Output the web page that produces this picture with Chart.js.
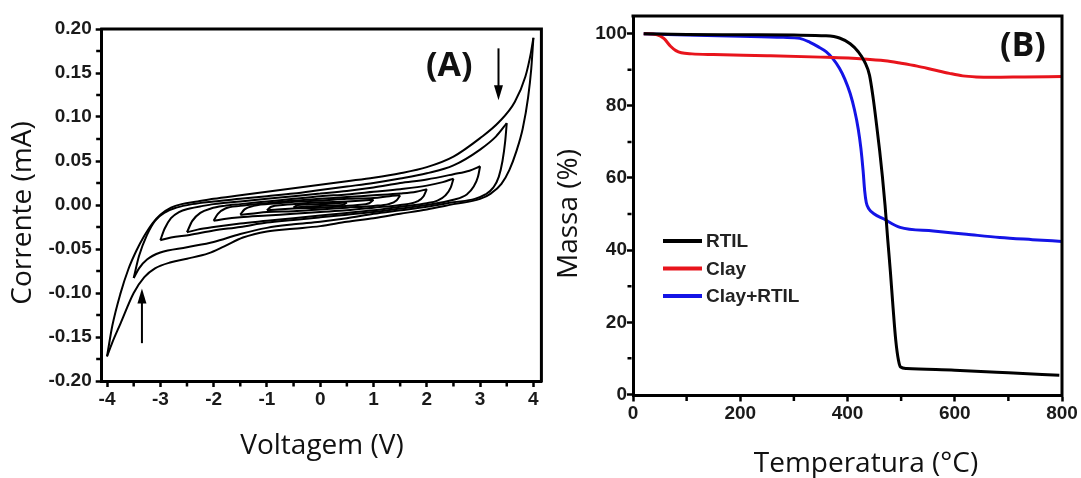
<!DOCTYPE html>
<html>
<head>
<meta charset="utf-8">
<title>Voltametria e TGA</title>
<script src="https://cdn.jsdelivr.net/npm/chart.js@4.4.0/dist/chart.umd.min.js"></script>
<style>
  body { margin: 0; background: #fff; }
  #wrap { position: relative; width: 1081px; height: 478px; overflow: hidden; }
  canvas { position: absolute; top: 0; }
  #cv { left: 0; }
  #tga { left: 545px; }
</style>
</head>
<body>
<div id="wrap">
  <canvas id="cv" width="545" height="478"></canvas>
  <canvas id="tga" width="536" height="478"></canvas>
</div>
<script>
// ---------- (A) voltammograms: [V, mA], anodic sweep then cathodic sweep per window ----------
const cvUp40 = [[-4.0,-0.172],[-3.9,-0.137],[-3.75,-0.101],[-3.6,-0.073],[-3.45,-0.052],[-3.3,-0.035],[-3.15,-0.021],[-3.0,-0.011],[-2.8,-0.003],[-2.6,0.001],[-2.3,0.004],[-2.0,0.007],[-1.5,0.011],[-1.0,0.015],[-0.5,0.019],[0,0.023],[0.5,0.027],[1.0,0.031],[1.5,0.036],[2.0,0.043],[2.5,0.055],[3.0,0.076],[3.35,0.094],[3.65,0.117],[3.85,0.146],[3.95,0.172],[4.0,0.19]];
const cvDown40 = [[4.0,0.19],[3.96,0.155],[3.9,0.122],[3.8,0.087],[3.68,0.061],[3.55,0.04],[3.4,0.024],[3.2,0.013],[3.0,0.007],[2.5,0.001],[2.0,-0.005],[1.5,-0.010],[1.0,-0.015],[0.5,-0.019],[0,-0.024],[-0.5,-0.027],[-1.0,-0.030],[-1.45,-0.037],[-1.8,-0.047],[-2.1,-0.055],[-2.5,-0.061],[-2.8,-0.065],[-3.1,-0.072],[-3.3,-0.082],[-3.5,-0.1],[-3.75,-0.135],[-3.9,-0.156],[-4.0,-0.172]];
const cvUp35 = [[-3.5,-0.083],[-3.4,-0.058],[-3.25,-0.034],[-3.1,-0.018],[-2.9,-0.008],[-2.7,-0.003],[-2.4,0.001],[-2.0,0.004],[-1.5,0.007],[-1.0,0.010],[-0.5,0.013],[0,0.017],[0.5,0.021],[1.0,0.025],[1.5,0.030],[2.0,0.036],[2.5,0.045],[3.0,0.063],[3.3,0.078],[3.5,0.093]];
const cvDown35 = [[3.5,0.093],[3.47,0.072],[3.42,0.05],[3.35,0.032],[3.25,0.02],[3.1,0.012],[2.9,0.007],[2.5,0.003],[2.0,-0.002],[1.5,-0.006],[1.0,-0.010],[0.5,-0.015],[0,-0.019],[-0.5,-0.022],[-1.0,-0.026],[-1.5,-0.033],[-2.0,-0.042],[-2.5,-0.048],[-3.0,-0.054],[-3.25,-0.062],[-3.4,-0.072],[-3.5,-0.083]];
const cvUp30 = [[-3.0,-0.040],[-2.92,-0.027],[-2.8,-0.015],[-2.65,-0.008],[-2.45,-0.004],[-2.2,-0.001],[-2.0,0.001],[-1.5,0.004],[-1.0,0.007],[-0.5,0.010],[0,0.013],[0.5,0.016],[1.0,0.020],[1.5,0.025],[2.0,0.029],[2.5,0.035],[2.8,0.039],[3.0,0.044]];
const cvDown30 = [[3.0,0.044],[2.96,0.032],[2.88,0.021],[2.75,0.012],[2.5,0.006],[2.0,0.000],[1.5,-0.004],[1.0,-0.008],[0.5,-0.011],[0,-0.014],[-0.5,-0.017],[-1.0,-0.020],[-1.5,-0.025],[-2.0,-0.029],[-2.45,-0.034],[-2.8,-0.037],[-3.0,-0.040]];
const cvUp25 = [[-2.5,-0.031],[-2.4,-0.018],[-2.25,-0.009],[-2.05,-0.004],[-1.8,-0.001],[-1.5,0.001],[-1.0,0.004],[-0.5,0.007],[0,0.010],[0.5,0.012],[1.0,0.015],[1.5,0.018],[2.0,0.022],[2.3,0.026],[2.5,0.030]];
const cvDown25 = [[2.5,0.030],[2.45,0.020],[2.35,0.011],[2.2,0.005],[2.0,0.002],[1.5,-0.002],[1.0,-0.006],[0.5,-0.009],[0,-0.012],[-0.5,-0.015],[-1.0,-0.018],[-1.5,-0.021],[-2.0,-0.025],[-2.3,-0.028],[-2.5,-0.031]];
const cvUp20 = [[-2.0,-0.018],[-1.92,-0.010],[-1.78,-0.004],[-1.5,-0.001],[-1.0,0.002],[-0.5,0.005],[0,0.007],[0.5,0.009],[1.0,0.011],[1.5,0.013],[1.8,0.015],[2.0,0.018]];
const cvDown20 = [[2.0,0.018],[1.94,0.010],[1.82,0.004],[1.5,0.000],[1.0,-0.003],[0.5,-0.006],[0,-0.008],[-0.5,-0.010],[-1.0,-0.012],[-1.5,-0.014],[-1.8,-0.016],[-2.0,-0.018]];
const cvUp15 = [[-1.5,-0.011],[-1.42,-0.005],[-1.25,-0.001],[-0.8,0.002],[-0.4,0.004],[0,0.005],[0.5,0.007],[1.0,0.008],[1.3,0.010],[1.5,0.011]];
const cvDown15 = [[1.5,0.011],[1.43,0.005],[1.28,0.001],[1.0,-0.001],[0.5,-0.003],[0,-0.005],[-0.5,-0.007],[-1.0,-0.008],[-1.3,-0.010],[-1.5,-0.011]];
const cvUp10 = [[-1.0,-0.006],[-0.92,-0.002],[-0.7,0.000],[-0.3,0.002],[0,0.003],[0.5,0.004],[0.8,0.005],[1.0,0.006]];
const cvDown10 = [[1.0,0.006],[0.92,0.002],[0.7,0.000],[0.3,-0.002],[0,-0.003],[-0.5,-0.004],[-0.8,-0.005],[-1.0,-0.006]];
const cvUp05 = [[-0.5,-0.003],[-0.42,0.000],[0,0.001],[0.3,0.002],[0.5,0.003]];
const cvDown05 = [[0.5,0.003],[0.42,0.000],[0,-0.001],[-0.3,-0.002],[-0.5,-0.003]];

const voltTicks = [-4, -3, -2, -1, 0, 1, 2, 3, 4];
const voltMinor = [-3.5, -2.5, -1.5, -0.5, 0.5, 1.5, 2.5, 3.5];
const currentTicks = [-0.2, -0.15, -0.1, -0.05, 0, 0.05, 0.1, 0.15, 0.2];
const currentMinor = [-0.175, -0.125, -0.075, -0.025, 0.025, 0.075, 0.125, 0.175];

// ---------- (B) thermogravimetry ----------
const tgaLabels = ["RTIL", "Clay", "Clay+RTIL"];
const tempRTIL = [20, 100, 200, 300, 360, 385, 405, 420, 432, 441, 448, 454, 460, 465, 470, 475, 480, 485, 490, 495, 499, 510, 600, 700, 795];
const massRTIL = [100, 99.8, 99.7, 99.6, 99.4, 98.8, 97.2, 95.0, 92.2, 88.5, 82.0, 75.0, 67.5, 60.5, 52.5, 43.0, 34.0, 24.0, 15.0, 9.5, 7.6, 7.2, 6.7, 6.0, 5.3];
const tempClay = [20, 45, 58, 70, 80, 90, 110, 150, 250, 350, 430, 470, 500, 530, 560, 590, 615, 640, 670, 730, 800];
const massClay = [100, 99.7, 98.6, 96.5, 95.3, 94.7, 94.4, 94.2, 93.9, 93.5, 93.0, 92.5, 91.8, 91.0, 90.0, 89.0, 88.3, 88.0, 87.9, 88.0, 88.1];
const tempClayRTIL = [20, 100, 200, 280, 311, 330, 345, 360, 373, 385, 395, 405, 413, 420, 425, 429, 432, 435, 440, 450, 467, 498, 560, 622, 684, 745, 800];
const massClayRTIL = [100, 99.6, 99.3, 99.0, 98.7, 97.6, 96.4, 95.0, 93.0, 90.4, 87.4, 83.4, 78.9, 73.6, 68.2, 62.2, 56.5, 53.2, 51.4, 50.0, 48.7, 46.3, 45.3, 44.4, 43.5, 42.9, 42.4];
const tgaColors = ["#000000", "#e8141c", "#1414e6"];

const tempTicks = [0, 200, 400, 600, 800];
const tempMinor = [100, 300, 500, 700];
const massTicks = [0, 20, 40, 60, 80, 100];
const massMinor = [10, 30, 50, 70, 90];

const tickFont = { family: "'Liberation Sans', Arial, sans-serif", size: 19, weight: "bold" };
const titleFont = "28px 'Open Sans', sans-serif";
const panelFont = "bold 34px 'Open Sans', sans-serif";

// frame, minor ticks, axis titles, panel letter, arrows and legend
const decor = {
    id: "decor",
    afterDraw(chart, args, opts) {
        const ctx = chart.ctx;
        const { left, right, top, bottom } = chart.chartArea;
        const xs = chart.scales.x, ys = chart.scales.y;
        ctx.save();

        ctx.strokeStyle = "#000";
        ctx.lineWidth = 3;
        ctx.beginPath();
        ctx.moveTo(left - 1.5, top);
        ctx.lineTo(right + 1.5, top);
        ctx.moveTo(right, top);
        ctx.lineTo(right, bottom + 1.5);
        ctx.stroke();

        ctx.lineWidth = 2.5;
        ctx.beginPath();
        opts.minorX.forEach(v => {
            const px = xs.getPixelForValue(v);
            ctx.moveTo(px, bottom + 1.5);
            ctx.lineTo(px, bottom + 1.5 + opts.minorLen);
        });
        opts.minorY.forEach(v => {
            const py = ys.getPixelForValue(v);
            ctx.moveTo(left - 1.5, py);
            ctx.lineTo(left - 1.5 - opts.minorLen, py);
        });
        ctx.stroke();

        ctx.fillStyle = "#111";
        ctx.textAlign = "center";
        ctx.textBaseline = "middle";
        ctx.font = titleFont;
        ctx.fillText(opts.xTitle.text, opts.xTitle.x, opts.xTitle.y);
        ctx.save();
        ctx.translate(opts.yTitle.x, opts.yTitle.y);
        ctx.rotate(-Math.PI / 2);
        ctx.fillText(opts.yTitle.text, 0, 0);
        ctx.restore();

        ctx.font = panelFont;
        ctx.fillText(opts.panel.text, xs.getPixelForValue(opts.panel.x), ys.getPixelForValue(opts.panel.y));

        (opts.arrows || []).forEach(a => {
            const px = xs.getPixelForValue(a.x);
            const p0 = ys.getPixelForValue(a.from);
            const p1 = ys.getPixelForValue(a.to);
            const dir = Math.sign(p1 - p0);
            ctx.lineWidth = 2;
            ctx.beginPath();
            ctx.moveTo(px, p0);
            ctx.lineTo(px, p1 - dir * 10);
            ctx.stroke();
            ctx.fillStyle = "#000";
            ctx.beginPath();
            ctx.moveTo(px, p1);
            ctx.lineTo(px - 4.5, p1 - dir * 15);
            ctx.lineTo(px + 4.5, p1 - dir * 15);
            ctx.closePath();
            ctx.fill();
        });

        if (opts.legend) {
            const lg = opts.legend;
            ctx.font = "bold 19px 'Liberation Sans', Arial, sans-serif";
            ctx.textAlign = "left";
            chart.data.datasets.forEach((ds, i) => {
                const y = top + lg.dy + i * lg.gap;
                ctx.strokeStyle = ds.borderColor;
                ctx.lineWidth = 4;
                ctx.beginPath();
                ctx.moveTo(left + lg.dx, y);
                ctx.lineTo(left + lg.dx + lg.len, y);
                ctx.stroke();
                ctx.fillStyle = "#222";
                ctx.fillText(ds.label, left + lg.dx + lg.len + 4, y + 1);
            });
        }
        ctx.restore();
    }
};

function axis(min, max, major, size, fmt, tickPad) {
    return {
        type: "linear",
        min: min,
        max: max,
        afterBuildTicks: s => { s.ticks = major.map(v => ({ value: v })); },
        afterFit: s => { if (s.isHorizontal()) s.height = size; else s.width = size; },
        ticks: { font: tickFont, color: "#1a1a1a", padding: tickPad, autoSkip: false, maxRotation: 0, callback: fmt },
        grid: { display: true, drawOnChartArea: false, drawTicks: true, tickLength: 6, tickWidth: 2.5, tickColor: "#000" },
        border: { display: true, width: 3, color: "#000" }
    };
}

// -------- (A) --------
const cvBranches = [cvUp40, cvDown40, cvUp35, cvDown35, cvUp30, cvDown30, cvUp25, cvDown25,
    cvUp20, cvDown20, cvUp15, cvDown15, cvUp10, cvDown10, cvUp05, cvDown05];

new Chart(document.getElementById("cv"), {
    type: "scatter",
    data: {
        datasets: cvBranches.map(b => ({
            data: b.map(([v, i]) => ({ x: v, y: i })),
            showLine: true,
            borderColor: "#000",
            borderWidth: 2,
            pointRadius: 0,
            cubicInterpolationMode: "monotone"
        }))
    },
    options: {
        responsive: false,
        animation: false,
        devicePixelRatio: 1,
        layout: { padding: { left: 0, right: 3.6, top: 29, bottom: 37 } },
        scales: {
            x: axis(-4.1, 4.15, voltTicks, 60, v => String(v), 1),
            y: axis(-0.2, 0.2, currentTicks, 101.7, v => Number(v).toFixed(2), 4)
        },
        plugins: {
            legend: { display: false },
            tooltip: { enabled: false },
            decor: {
                minorX: voltMinor, minorY: currentMinor, minorLen: 4,
                xTitle: { text: "Voltagem (V)", x: 322, y: 446 },
                yTitle: { text: "Corrente (mA)", x: 23, y: 213 },
                panel: { text: "(A)", x: 2.42, y: 0.158 },
                arrows: [{ x: 3.345, from: 0.178, to: 0.119 }, { x: -3.345, from: -0.157, to: -0.095 }]
            }
        }
    },
    plugins: [decor]
});

// -------- (B) --------
const tgaTemps = [tempRTIL, tempClay, tempClayRTIL];
const tgaMasses = [massRTIL, massClay, massClayRTIL];

new Chart(document.getElementById("tga"), {
    type: "scatter",
    data: {
        datasets: tgaLabels.map((name, k) => ({
            label: name,
            data: tgaTemps[k].map((t, j) => ({ x: t, y: tgaMasses[k][j] })),
            showLine: true,
            borderColor: tgaColors[k],
            borderWidth: 3,
            pointRadius: 0,
            cubicInterpolationMode: "monotone"
        }))
    },
    options: {
        responsive: false,
        animation: false,
        devicePixelRatio: 1,
        layout: { padding: { left: 0, right: 19, top: 16, bottom: 32.5 } },
        scales: {
            x: axis(0, 800, tempTicks, 50, v => String(v), 1),
            y: axis(-0.3, 104.9, massTicks, 88, v => String(v), 0)
        },
        plugins: {
            legend: { display: false },
            tooltip: { enabled: false },
            decor: {
                minorX: tempMinor, minorY: massMinor, minorLen: 4,
                xTitle: { text: "Temperatura (°C)", x: 321, y: 464 },
                yTitle: { text: "Massa (%)", x: 24, y: 214 },
                panel: { text: "(B)", x: 727, y: 96.6 },
                legend: { dx: 30, dy: 225, gap: 27.5, len: 39 }
            }
        }
    },
    plugins: [decor]
});
</script>
</body>
</html>
